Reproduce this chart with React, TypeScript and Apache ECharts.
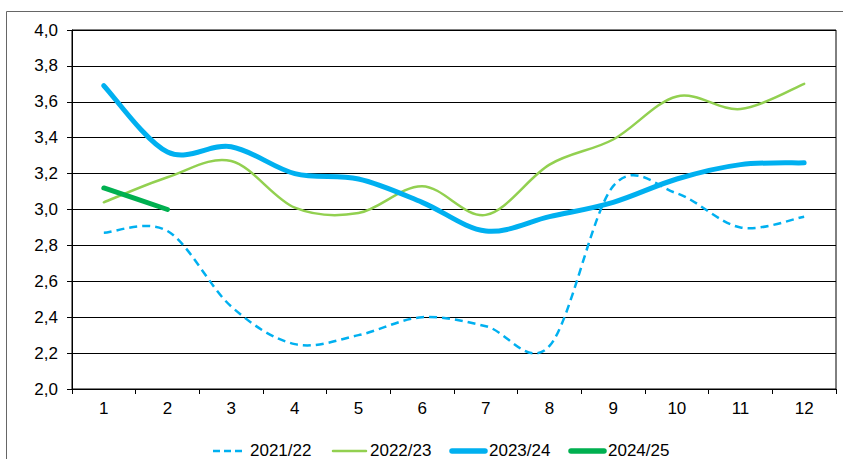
import React, { useEffect, useRef } from "react";
import * as echarts from "echarts";

const months = ["1", "2", "3", "4", "5", "6", "7", "8", "9", "10", "11", "12"];
const s2122 = [2.87, 2.88, 2.46, 2.25, 2.3, 2.4, 2.35, 2.24, 3.13, 3.09, 2.9, 2.96];
const s2223 = [3.04, 3.18, 3.27, 3.01, 2.98, 3.13, 2.97, 3.25, 3.39, 3.63, 3.56, 3.7];
const s2324 = [3.69, 3.32, 3.35, 3.2, 3.17, 3.04, 2.88, 2.96, 3.04, 3.17, 3.25, 3.26];
const s2425 = [3.12, 3.0];
const seriesNames = ["2021/22", "2022/23", "2023/24", "2024/25"];
const seriesValues = [s2122, s2223, s2324, s2425];

const FONT = "Liberation Sans, Arial, sans-serif";

const styles = [
  { color: "#00B0F0", width: 2.5, dash: [8, 5] as number[] | null, legendDash: [7, 4] as number[] | null },
  { color: "#92D050", width: 2.5, dash: null, legendDash: null },
  { color: "#00B0F0", width: 5, dash: null, legendDash: null },
  { color: "#00B050", width: 5, dash: null, legendDash: null },
];

// Excel-like smoothed path (Catmull-Rom style cubic Bezier through the points)
function smoothPath(pts: number[][]): string {
  let d = `M${pts[0][0]},${pts[0][1]}`;
  for (let i = 0; i < pts.length - 1; i++) {
    const p0 = pts[i - 1] || pts[i];
    const p1 = pts[i];
    const p2 = pts[i + 1];
    const p3 = pts[i + 2] || pts[i + 1];
    const c1x = p1[0] + (p2[0] - p0[0]) / 6;
    const c1y = p1[1] + (p2[1] - p0[1]) / 6;
    const c2x = p2[0] - (p3[0] - p1[0]) / 6;
    const c2y = p2[1] - (p3[1] - p1[1]) / 6;
    d += ` C${c1x},${c1y} ${c2x},${c2y} ${p2[0]},${p2[1]}`;
  }
  return d;
}

export default function App() {
  const ref = useRef<HTMLDivElement>(null);
  useEffect(() => {
    const chart = echarts.init(ref.current!, null, { renderer: "svg" });

    const iconStarts = [213, 333, 452, 571];
    const iconLen = 33;
    const legendY = 451;
    const legendGraphics: any[] = [];
    seriesNames.forEach((name, i) => {
      const st = styles[i];
      const x0 = iconStarts[i];
      legendGraphics.push({
        type: "line",
        shape: { x1: x0, y1: legendY, x2: x0 + iconLen, y2: legendY },
        style: {
          stroke: st.color,
          lineWidth: i >= 2 ? 5.5 : st.width,
          lineDash: st.legendDash || undefined,
          lineCap: st.legendDash ? "butt" : "round",
        },
        silent: true,
      });
      legendGraphics.push({
        type: "text",
        x: x0 + iconLen + 4,
        y: legendY - 1,
        style: {
          text: name,
          fill: "#000",
          font: `17px ${FONT}`,
          verticalAlign: "middle",
          align: "left",
        },
        silent: true,
      });
    });

    const series = seriesNames.map((name, si) => {
      const vals = seriesValues[si];
      const st = styles[si];
      return {
        name,
        type: "custom",
        coordinateSystem: "cartesian2d",
        data: vals.map((v, i) => [i, v]),
        encode: { x: 0, y: 1 },
        silent: true,
        z: 2 + si,
        clip: false,
        renderItem: (params: any, api: any) => {
          if (params.dataIndex !== 0) return null;
          const pts = vals.map((v, i) => api.coord([i, v]));
          return {
            type: "path",
            shape: { pathData: smoothPath(pts) },
            style: {
              fill: "none",
              stroke: st.color,
              lineWidth: st.width,
              lineDash: st.dash || undefined,
              lineCap: st.dash ? "butt" : "round",
              lineJoin: "round",
            },
          };
        },
      };
    });

    chart.setOption({
      animation: false,
      textStyle: { fontFamily: FONT },
      grid: {
        left: 72,
        top: 30,
        right: 7,
        bottom: 70,
        show: true,
        borderColor: "#000",
        borderWidth: 1,
      },
      graphic: [
        {
          type: "rect",
          shape: { x: 6.5, y: 11.5, width: 840, height: 460 },
          style: { fill: "none", stroke: "#666", lineWidth: 1 },
          silent: true,
          z: -1,
        },
        ...legendGraphics,
      ],
      xAxis: {
        type: "category",
        data: months,
        boundaryGap: true,
        axisLine: { lineStyle: { color: "#000", width: 1 } },
        axisTick: { show: true, interval: 0, length: 5, lineStyle: { color: "#000" } },
        axisLabel: { fontSize: 17, color: "#000", margin: 11, fontFamily: FONT },
      },
      yAxis: {
        type: "value",
        min: 2,
        max: 4,
        interval: 0.2,
        axisLine: { show: true, lineStyle: { color: "#000", width: 1 } },
        axisTick: { show: true, length: 5, lineStyle: { color: "#000" } },
        splitLine: { lineStyle: { color: "#000", width: 1 } },
        axisLabel: {
          fontSize: 17,
          color: "#000",
          margin: 14,
          fontFamily: FONT,
          formatter: (v: number) => v.toFixed(1).replace(".", ","),
        },
      },
      series,
    });
    return () => chart.dispose();
  }, []);
  return (
    <div
      ref={ref}
      style={{ position: "absolute", left: 0, top: 0, width: 843, height: 459, background: "#fff" }}
    />
  );
}
